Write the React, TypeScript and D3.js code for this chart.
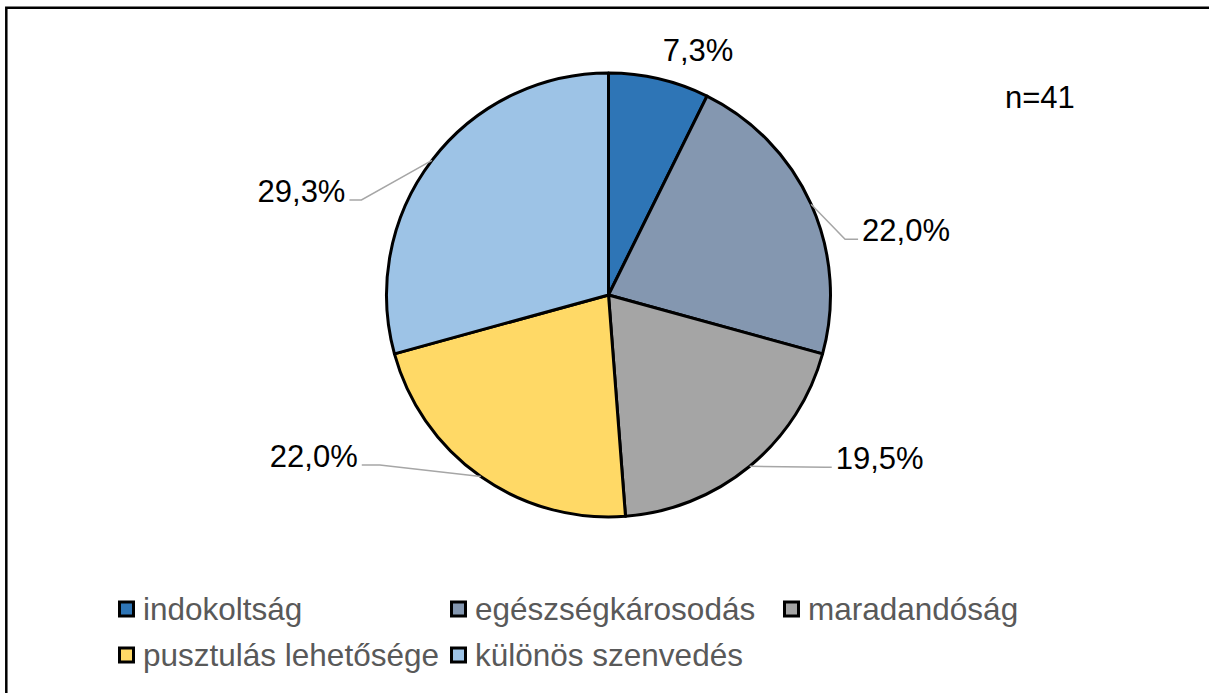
import React from "react";
import * as d3 from "d3";

const WIDTH = 1209;
const HEIGHT = 693;

const categories = [
  "indokoltság",
  "egészségkárosodás",
  "maradandóság",
  "pusztulás lehetősége",
  "különös szenvedés",
];
const counts = [3, 9, 8, 9, 12];
const colors = ["#2E75B6", "#8497B0", "#A5A5A5", "#FFD966", "#9DC3E6"];
const sampleLabel = "n=41";

const FONT = "'Liberation Sans', Arial, sans-serif";

const CX = 608.5;
const CY = 295;
const R = 222;

// end of each leader line, relative to the rim point at the slice's mid-angle
const labelOffsets = [
  { dx: 39, dy: -18, side: 0, elbow: 0 },
  { dx: 47, dy: 35, side: 1, elbow: 13 },
  { dx: 82, dy: 1, side: 1, elbow: 6 },
  { dx: -119, dy: -11.5, side: -1, elbow: 18 },
  { dx: -82.5, dy: 39.5, side: -1, elbow: 12 },
];

export default function App() {
  const total = d3.sum(counts);
  const fmt = (v: number) => d3.format(".1f")((v / total) * 100).replace(".", ",") + "%";

  const pie = d3
    .pie<number>()
    .sort(null)
    .value((d) => d);
  const arcs = pie(counts);

  const arc = d3
    .arc<d3.PieArcDatum<number>>()
    .innerRadius(0)
    .outerRadius(R);

  const rim = (a: d3.PieArcDatum<number>) => {
    const mid = (a.startAngle + a.endAngle) / 2;
    return [CX + R * Math.sin(mid), CY - R * Math.cos(mid)];
  };

  const legendX = d3.scaleLinear().domain([0, 1]).range([118, 450]);
  const legendY = d3.scaleLinear().domain([0, 1]).range([609, 655]);

  return (
    <div style={{ position: "absolute", left: 0, top: 0, width: WIDTH, height: HEIGHT, overflow: "hidden" }}>
      <svg width={WIDTH} height={HEIGHT} style={{ display: "block", background: "#fff" }} fontFamily={FONT}>
        <path
          d={`M6.3,${HEIGHT + 10}V7.7H${WIDTH + 10}`}
          fill="none"
          stroke="#000"
          strokeWidth={2.5}
        />

        <g transform={`translate(${CX},${CY})`}>
          {arcs.map((a, i) => (
            <path key={i} d={arc(a) || ""} fill={colors[i]} stroke="#000" strokeWidth={3} strokeLinejoin="round" />
          ))}
        </g>

        <g fontSize={31} fill="#000">
          {arcs.map((a, i) => {
            const [px, py] = rim(a);
            const o = labelOffsets[i];
            const ex = px + o.dx;
            const ey = py + o.dy;
            if (o.side === 0) {
              return (
                <text key={i} x={ex} y={ey} textAnchor="middle">
                  {fmt(counts[i])}
                </text>
              );
            }
            const bx = ex - o.side * o.elbow;
            return (
              <g key={i}>
                <polyline
                  points={`${px},${py} ${bx},${ey} ${ex},${ey}`}
                  fill="none"
                  stroke="#A6A6A6"
                  strokeWidth={1.5}
                />
                <text x={ex + o.side * 4} y={ey + 2} textAnchor={o.side > 0 ? "start" : "end"}>
                  {fmt(counts[i])}
                </text>
              </g>
            );
          })}
          <text x={1005} y={108}>
            {sampleLabel}
          </text>
        </g>

        <g fontSize={31.5} fill="#595959">
          {categories.map((c, i) => {
            const col = i < 3 ? i : i - 3;
            const row = i < 3 ? 0 : 1;
            const x = i === 2 ? 783 : legendX(col);
            const y = legendY(row);
            return (
              <g key={c}>
                <rect x={x + 1.5} y={y - 7} width={14} height={14} fill={colors[i]} stroke="#000" strokeWidth={3} />
                <text x={x + 25} y={y + 11}>
                  {c}
                </text>
              </g>
            );
          })}
        </g>
      </svg>
    </div>
  );
}
